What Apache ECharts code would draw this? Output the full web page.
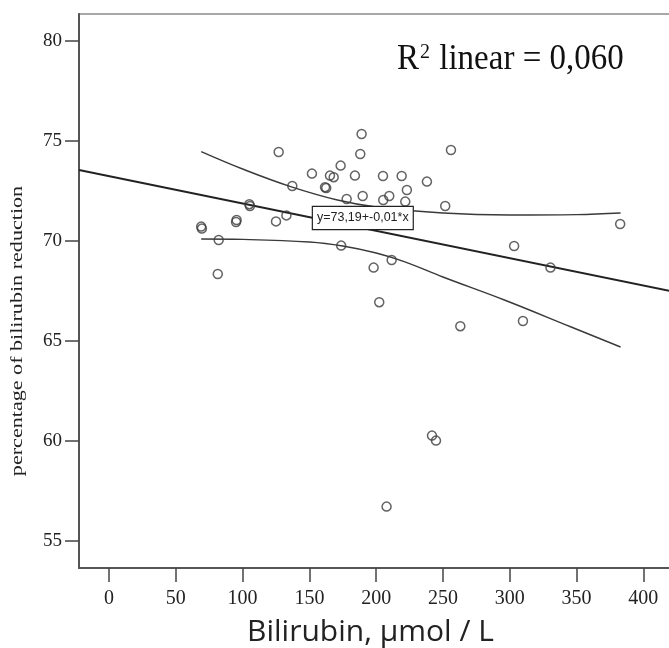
<!DOCTYPE html>
<html>
<head>
<meta charset="utf-8">
<script src="https://cdn.jsdelivr.net/npm/echarts@6/dist/echarts.min.js"></script>
<style>html,body{margin:0;padding:0;background:#fff}#c{width:669px;height:648px}</style>
</head>
<body>
<div id="c"></div>
<script>
// Observed points: bilirubin (µmol/L), percentage of bilirubin reduction
const bilirubin = [69, 69.5, 82.1, 81.4, 95.1, 95.5, 105, 105.5, 125, 132.8, 127, 137.2, 151.9, 161.7, 162.6, 165.4, 168.2, 173.4, 177.9, 184.1, 189.1, 188.1, 189.9, 205.1, 219.1, 238, 256, 223, 209.8, 205.3, 221.8, 251.7, 173.8, 198.1, 211.6, 202.3, 263, 241.8, 244.8, 207.8, 303.3, 330.5, 309.9, 382.7];
const reduction = [70.72, 70.62, 70.05, 68.35, 70.95, 71.05, 71.84, 71.75, 70.98, 71.28, 74.45, 72.75, 73.37, 72.69, 72.65, 73.27, 73.19, 73.77, 72.1, 73.27, 75.35, 74.35, 72.25, 73.25, 73.25, 72.97, 74.55, 72.55, 72.25, 72.05, 71.97, 71.75, 69.77, 68.67, 69.05, 66.94, 65.74, 60.27, 60.02, 56.72, 69.75, 68.67, 66.0, 70.85];

// Linear fit line (end points)
const fitX = [-22.5, 423];
const fitY = [73.55, 67.46];

// Confidence band curves
const bandUpperX = [69, 100, 136, 171, 200, 250, 300, 350, 383];
const bandUpperY = [74.47, 73.6, 72.72, 72.05, 71.7, 71.4, 71.3, 71.32, 71.4];
const bandLowerX = [69, 100, 150, 175, 200, 221, 250, 296, 346, 383];
const bandLowerY = [70.1, 70.08, 69.95, 69.75, 69.4, 68.97, 68.2, 67.05, 65.7, 64.7];

const xTicks = [0, 50, 100, 150, 200, 250, 300, 350, 400];
const yTicks = [55, 60, 65, 70, 75, 80];

const xTitle = 'Bilirubin, µmol / L';
const yTitle = 'percentage of bilirubin reduction';
const equationText = 'y=73,19+-0,01*x';
const equationAt = [190, 71.15];

const zip = (a, b) => a.map((v, i) => [v, b[i]]);

const chart = echarts.init(document.getElementById('c'), null, {renderer: 'canvas'});
const serif = '"Liberation Serif", "DejaVu Serif", serif';
const lineCol = '#3a3a3a';

chart.setOption({
  animation: false,
  backgroundColor: '#fff',
  grid: {left: 79, right: -5, top: 14, bottom: 80, show: true, borderColor: '#8a8a8a', borderWidth: 1.5, backgroundColor: 'transparent', outerBoundsMode: 'none', containLabel: false},
  xAxis: {
    type: 'value', min: -22.5, max: 423,
    name: xTitle, nameLocation: 'middle', nameGap: 49,
    nameTextStyle: {fontFamily: '"Open Sans", "Noto Sans", sans-serif', fontSize: 30, color: '#222', padding: [0, 12, 0, 0]},
    axisLine: {show: true, onZero: false, lineStyle: {color: '#555', width: 2}},
    axisTick: {show: true, customValues: xTicks, length: 14, inside: false, lineStyle: {color: '#444', width: 1.5}},
    axisLabel: {customValues: xTicks, fontFamily: serif, fontSize: 20, color: '#222', margin: 21},
    splitLine: {show: false}
  },
  yAxis: {
    type: 'value', min: 53.65, max: 81.35,
    axisLine: {show: true, onZero: false, lineStyle: {color: '#555', width: 2}},
    axisTick: {show: true, customValues: yTicks, length: 14, lineStyle: {color: '#444', width: 1.5}},
    axisLabel: {customValues: yTicks, fontFamily: serif, fontSize: 19, color: '#222', margin: 17},
    splitLine: {show: false}
  },
  series: [
    {
      type: 'line', data: zip(fitX, fitY), symbol: 'none', silent: true,
      lineStyle: {color: '#222', width: 1.8}, z: 3,
      markPoint: {
        symbol: 'rect', symbolSize: 1, itemStyle: {color: 'transparent'},
        data: [{coord: equationAt}],
        label: {
          show: true, position: 'inside', formatter: equationText,
          fontFamily: '"Liberation Sans Narrow", "Liberation Sans", sans-serif', fontSize: 12.5, color: '#222',
          backgroundColor: '#fff', borderColor: '#222', borderWidth: 1.2, padding: [5, 4, 4, 4]
        },
        z: 10
      }
    },
    {type: 'line', data: zip(bandUpperX, bandUpperY), smooth: 0.4, symbol: 'none', silent: true, lineStyle: {color: lineCol, width: 1.4}, z: 2},
    {type: 'line', data: zip(bandLowerX, bandLowerY), smooth: 0.4, symbol: 'none', silent: true, lineStyle: {color: lineCol, width: 1.4}, z: 2},
    {
      type: 'scatter', data: zip(bilirubin, reduction), symbol: 'circle', symbolSize: 9,
      itemStyle: {color: 'rgba(255,255,255,0)', borderColor: '#3c3c3c', borderWidth: 1.5}, z: 4
    }
  ],
  graphic: [
    {
      type: 'text', x: 397, y: 59, scaleY: 1.1, z: 20,
      style: {
        text: '{r|R}{s|2}{r| linear = 0,060}', verticalAlign: 'middle',
        rich: {
          r: {fontFamily: serif, fontSize: 33, fill: '#111'},
          s: {fontFamily: serif, fontSize: 20, fill: '#111', verticalAlign: 'top', padding: [0, 1, 13, 1]}
        }
      }
    },
    {
      type: 'text', x: 18, y: 331, rotation: Math.PI / 2, scaleX: 1.3, z: 20,
      style: {text: yTitle, fontFamily: serif, fontSize: 17, fill: '#222', align: 'center', verticalAlign: 'middle'}
    }
  ]
});
</script>
</body>
</html>
